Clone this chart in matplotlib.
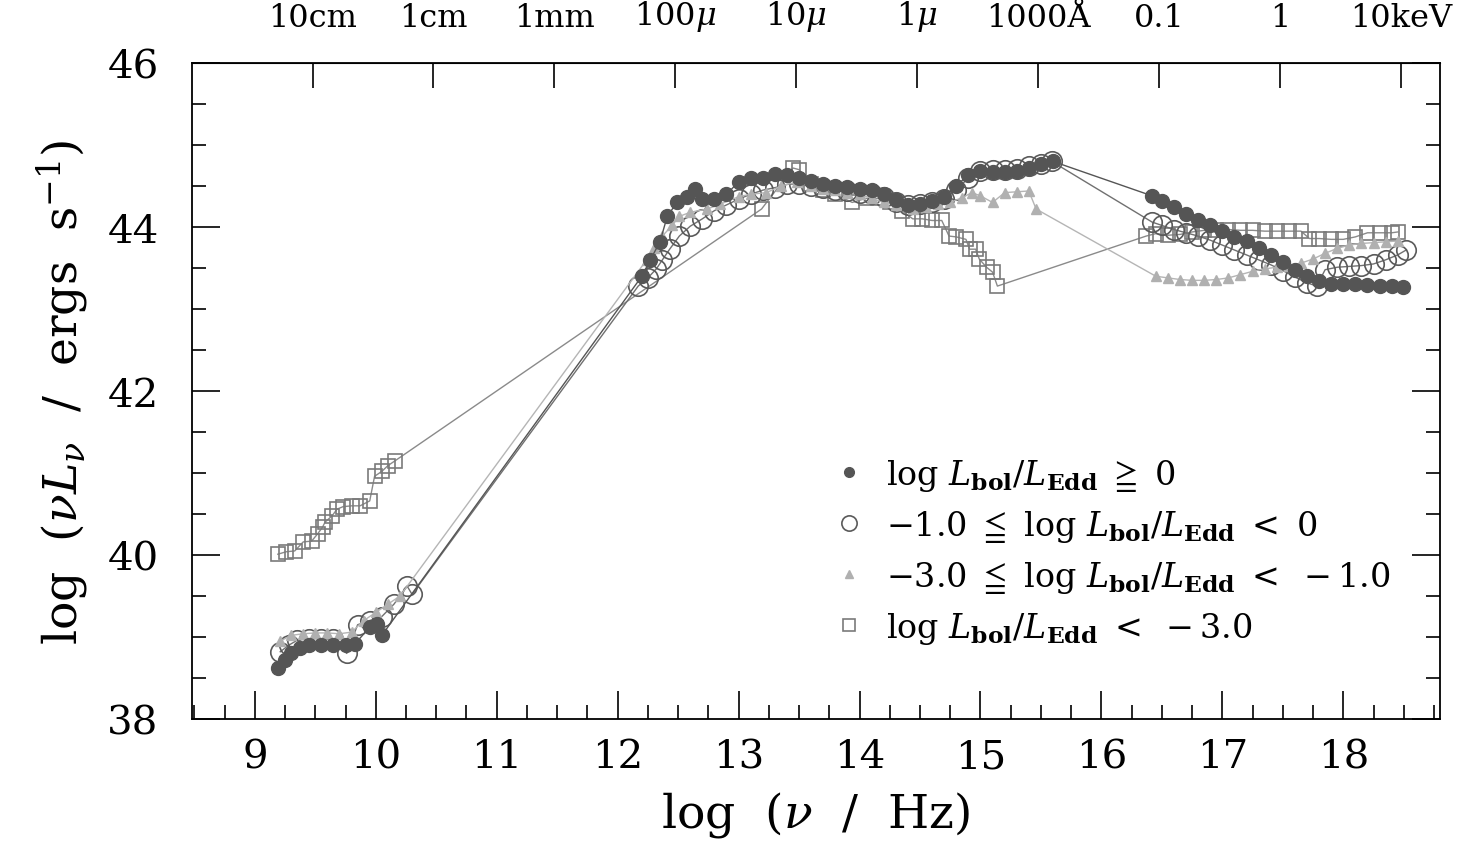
import numpy as np
import matplotlib.pyplot as plt
from matplotlib.lines import Line2D
from matplotlib.ticker import MultipleLocator, FixedLocator

plt.rcParams['font.family'] = 'DejaVu Serif'
plt.rcParams['mathtext.fontset'] = 'dejavuserif'

# log nu (Hz), log nuL_nu (erg/s)
# log Lbol/LEdd >= 0 (filled circles)
x_hi = [9.19, 9.25, 9.30, 9.37, 9.45, 9.55, 9.65, 9.75, 9.83, 9.95, 10.01, 10.05,
        12.20, 12.27, 12.35, 12.41, 12.49, 12.57, 12.64, 12.70, 12.80, 12.90, 13.00,
        13.10, 13.20, 13.30, 13.40, 13.50, 13.60, 13.70, 13.80, 13.90, 14.00, 14.10,
        14.20, 14.30, 14.40, 14.50, 14.60, 14.70, 14.80, 14.90, 15.00, 15.10, 15.20,
        15.30, 15.40, 15.50, 15.60,
        16.42, 16.50, 16.60, 16.70, 16.80, 16.90, 17.00, 17.10, 17.20, 17.30, 17.40,
        17.50, 17.60, 17.70, 17.80, 17.90, 18.00, 18.10, 18.20, 18.30, 18.40, 18.49]
y_hi = [38.62, 38.72, 38.80, 38.87, 38.90, 38.90, 38.90, 38.90, 38.92, 39.12, 39.16, 39.02,
        43.40, 43.60, 43.82, 44.13, 44.30, 44.37, 44.46, 44.34, 44.34, 44.40, 44.55,
        44.60, 44.60, 44.65, 44.64, 44.60, 44.56, 44.53, 44.50, 44.49, 44.47, 44.45,
        44.40, 44.33, 44.27, 44.28, 44.32, 44.37, 44.50, 44.64, 44.68, 44.67, 44.67,
        44.68, 44.72, 44.77, 44.80,
        44.38, 44.32, 44.24, 44.16, 44.09, 44.02, 43.95, 43.88, 43.83, 43.75, 43.66,
        43.57, 43.48, 43.40, 43.34, 43.31, 43.30, 43.30, 43.29, 43.28, 43.28, 43.27]

# -1.0 <= log Lbol/LEdd < 0 (open circles)
x_mid = [9.21, 9.28, 9.35, 9.45, 9.55, 9.65, 9.76, 9.85, 9.95, 10.05, 10.15, 10.26, 10.30,
         12.17, 12.25, 12.32, 12.37, 12.43, 12.51, 12.60, 12.70, 12.80, 12.90, 13.00,
         13.10, 13.20, 13.30, 13.40, 13.50, 13.60, 13.70, 13.80, 13.90, 14.00, 14.10,
         14.20, 14.30, 14.40, 14.50, 14.60, 14.70, 14.80, 14.90, 15.00, 15.10, 15.20,
         15.30, 15.40, 15.50, 15.59,
         16.42, 16.50, 16.60, 16.70, 16.80, 16.90, 17.00, 17.10, 17.20, 17.30, 17.40,
         17.50, 17.60, 17.70, 17.78, 17.85, 17.95, 18.05, 18.15, 18.25, 18.35, 18.45, 18.52]
y_mid = [38.82, 38.90, 38.96, 38.98, 38.98, 38.97, 38.80, 39.15, 39.20, 39.25, 39.40, 39.62, 39.52,
         43.28, 43.38, 43.49, 43.60, 43.73, 43.89, 44.01, 44.10, 44.20, 44.27, 44.34,
         44.40, 44.45, 44.48, 44.52, 44.53, 44.50, 44.48, 44.45, 44.44, 44.42, 44.40,
         44.37, 44.30, 44.27, 44.28, 44.30, 44.34, 44.45, 44.60, 44.68, 44.69, 44.70,
         44.71, 44.74, 44.77, 44.80,
         44.06, 44.02, 43.97, 43.93, 43.89, 43.84, 43.78, 43.72, 43.66, 43.60, 43.54,
         43.47, 43.39, 43.32, 43.28, 43.48, 43.51, 43.52, 43.53, 43.55, 43.60, 43.66, 43.72]

# -3.0 <= log Lbol/LEdd < -1.0 (triangles)
x_lo = [9.21, 9.30, 9.40, 9.50, 9.60, 9.70, 9.80, 9.90, 10.00, 10.10, 10.20,
        12.24, 12.30, 12.37, 12.45, 12.51, 12.60, 12.74, 12.85, 13.00, 13.10, 13.23,
        13.35, 13.48, 13.60, 13.70, 13.80, 13.90, 14.00, 14.10, 14.20, 14.30, 14.44,
        14.55, 14.65, 14.75, 14.85, 14.93, 15.00, 15.10, 15.20, 15.30, 15.40, 15.46,
        16.45, 16.55, 16.65, 16.75, 16.85, 16.95, 17.05, 17.15, 17.25, 17.35, 17.45,
        17.55, 17.65, 17.75, 17.85, 17.95, 18.05, 18.15, 18.25, 18.35, 18.45]
y_lo = [38.95, 39.02, 39.04, 39.05, 39.05, 39.04, 39.06, 39.20, 39.30, 39.40, 39.50,
        43.60, 43.75, 43.89, 44.02, 44.13, 44.18, 44.22, 44.28, 44.37, 44.40, 44.42,
        44.50, 44.55, 44.50, 44.47, 44.45, 44.42, 44.40, 44.35, 44.30, 44.27, 44.22,
        44.25, 44.28, 44.30, 44.36, 44.42, 44.38, 44.30, 44.42, 44.43, 44.44, 44.22,
        43.40, 43.38, 43.36, 43.35, 43.35, 43.36, 43.38, 43.42, 43.46, 43.49, 43.51,
        43.53, 43.56, 43.61, 43.68, 43.74, 43.78, 43.80, 43.81, 43.82, 43.83]

# log Lbol/LEdd < -3.0 (open squares)
x_vlo = [9.19, 9.26, 9.33, 9.40, 9.47, 9.52, 9.56, 9.58, 9.64, 9.68, 9.73, 9.80, 9.87,
         9.95, 9.99, 10.05, 10.10, 10.16,
         13.19, 13.45, 13.50, 13.60, 13.70, 13.80, 13.94, 14.05, 14.15, 14.25, 14.35,
         14.44, 14.52, 14.60, 14.68, 14.74, 14.80, 14.88, 14.91, 14.96, 14.99, 15.05,
         15.10, 15.14,
         16.37, 16.45, 16.55, 16.65, 16.75, 16.85, 16.95, 17.05, 17.15, 17.25, 17.35,
         17.45, 17.55, 17.65, 17.72, 17.80, 17.90, 18.00, 18.10, 18.20, 18.30, 18.40, 18.45]
y_vlo = [40.01, 40.04, 40.05, 40.16, 40.17, 40.26, 40.34, 40.40, 40.48, 40.56, 40.59, 40.60, 40.60,
         40.66, 40.96, 41.02, 41.09, 41.15,
         44.22, 44.72, 44.70, 44.52, 44.45, 44.40, 44.30, 44.35, 44.35, 44.30, 44.20,
         44.10, 44.10, 44.08, 44.08, 43.89, 43.88, 43.85, 43.73, 43.73, 43.61, 43.51,
         43.45, 43.28,
         43.89, 43.92, 43.90, 43.91, 43.94, 43.96, 43.97, 43.97, 43.96, 43.96, 43.95,
         43.95, 43.95, 43.95, 43.86, 43.86, 43.85, 43.85, 43.88, 43.93, 43.93, 43.93, 43.94]

top_pos = [9.477 + k for k in range(10)]
top_labels = ['10cm', '1cm', '1mm', r'100$\mu$', r'10$\mu$', r'1$\mu$',
              '1000Å', '0.1', '1', '10keV']

fig = plt.figure(figsize=(14.63, 8.53), dpi=100)
ax = fig.add_axes([0.1312, 0.1559, 0.8531, 0.769])

ax.plot(x_vlo, y_vlo, '-', color='#8a8a8a', lw=1.0, marker='s', ms=10,
        mfc='none', mec='#7a7a7a', mew=1.2, zorder=2)
ax.plot(x_mid, y_mid, '-', color='#707070', lw=1.0, marker='o', ms=14,
        mfc='none', mec='#5a5a5a', mew=1.2, zorder=3)
ax.plot(x_lo, y_lo, '-', color='#b5b5b5', lw=1.0, marker='^', ms=7,
        mfc='#b0b0b0', mec='#b0b0b0', zorder=4)
ax.plot(x_hi, y_hi, '-', color='#555555', lw=1.0, marker='o', ms=10,
        mfc='#555555', mec='#555555', zorder=5)

ax.set_xlim(8.48, 18.8)
ax.set_ylim(38, 46)
ax.xaxis.set_major_locator(MultipleLocator(1))
ax.xaxis.set_minor_locator(MultipleLocator(0.25))
ax.yaxis.set_major_locator(MultipleLocator(2))
ax.yaxis.set_minor_locator(MultipleLocator(0.5))
ax.tick_params(which='both', direction='in', left=True, right=True, bottom=True, top=False,
               width=1.2, labelsize=29)
ax.tick_params(which='major', length=20)
ax.tick_params(which='minor', length=10)
ax.tick_params(axis='x', pad=14)
ax.tick_params(axis='y', pad=24)
for s in ax.spines.values():
    s.set_linewidth(1.3)

top = ax.secondary_xaxis('top')
top.xaxis.set_major_locator(FixedLocator(top_pos))
top.set_xticklabels(top_labels)
top.tick_params(direction='in', length=18, width=1.2, labelsize=23, pad=22)
top.xaxis.set_minor_locator(FixedLocator([]))

ax.set_xlabel(r'log  $(\nu\ \ /\ \ {\rm Hz})$', fontsize=34, labelpad=10)
ax.set_ylabel(r'log  $(\nu L_\nu\ \ /\ \ {\rm ergs\ \ s^{-1}})$', fontsize=34, labelpad=12)

handles = [
    Line2D([], [], ls='none', marker='o', ms=7, mfc='#555555', mec='#555555'),
    Line2D([], [], ls='none', marker='o', ms=11, mfc='none', mec='#5a5a5a', mew=1.2),
    Line2D([], [], ls='none', marker='^', ms=6, mfc='#b0b0b0', mec='#b0b0b0'),
    Line2D([], [], ls='none', marker='s', ms=8, mfc='none', mec='#7a7a7a', mew=1.2),
]
labels = [
    r'log $L_{\mathbf{bol}}/L_{\mathbf{Edd}}\ \geqq\ 0$',
    r'$-1.0\ \leqq$ log $L_{\mathbf{bol}}/L_{\mathbf{Edd}}\ <\ 0$',
    r'$-3.0\ \leqq$ log $L_{\mathbf{bol}}/L_{\mathbf{Edd}}\ <\ -1.0$',
    r'log $L_{\mathbf{bol}}/L_{\mathbf{Edd}}\ <\ -3.0$',
]
ax.legend(handles, labels, loc='upper left', bbox_to_anchor=(0.5, 0.425),
          frameon=False, fontsize=24, handlelength=1.0, handletextpad=0.6,
          labelspacing=0.45, borderpad=0)

fig.savefig('out.png', dpi=100)
